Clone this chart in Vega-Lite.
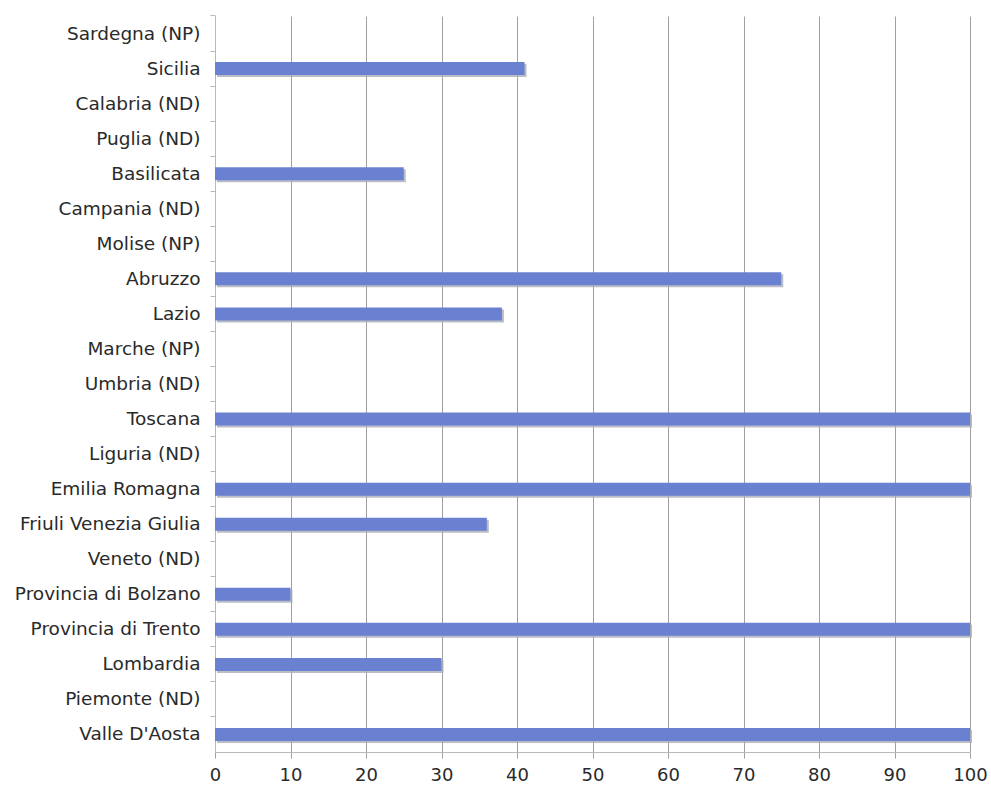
{
  "$schema": "https://vega.github.io/schema/vega-lite/v6.json",
  "width": 755,
  "height": 736,
  "autosize": "none",
  "padding": {"left": 215, "top": 16, "right": 21, "bottom": 37},
  "background": "white",
  "config": {
    "view": {"stroke": null},
    "font": "DejaVu Sans"
  },
  "data": {
    "values": [
      {"regione": "Sardegna (NP)", "valore": null},
      {"regione": "Sicilia", "valore": 41},
      {"regione": "Calabria (ND)", "valore": null},
      {"regione": "Puglia (ND)", "valore": null},
      {"regione": "Basilicata", "valore": 25},
      {"regione": "Campania (ND)", "valore": null},
      {"regione": "Molise (NP)", "valore": null},
      {"regione": "Abruzzo", "valore": 75},
      {"regione": "Lazio", "valore": 38},
      {"regione": "Marche (NP)", "valore": null},
      {"regione": "Umbria (ND)", "valore": null},
      {"regione": "Toscana", "valore": 100},
      {"regione": "Liguria (ND)", "valore": null},
      {"regione": "Emilia Romagna", "valore": 100},
      {"regione": "Friuli Venezia Giulia", "valore": 36},
      {"regione": "Veneto (ND)", "valore": null},
      {"regione": "Provincia di Bolzano", "valore": 10},
      {"regione": "Provincia di Trento", "valore": 100},
      {"regione": "Lombardia", "valore": 30},
      {"regione": "Piemonte (ND)", "valore": null},
      {"regione": "Valle D'Aosta", "valore": 100}
    ]
  },
  "encoding": {
    "y": {
      "field": "regione",
      "type": "nominal",
      "sort": null,
      "scale": {
        "domain": [
          "Sardegna (NP)", "Sicilia", "Calabria (ND)", "Puglia (ND)", "Basilicata",
          "Campania (ND)", "Molise (NP)", "Abruzzo", "Lazio", "Marche (NP)",
          "Umbria (ND)", "Toscana", "Liguria (ND)", "Emilia Romagna",
          "Friuli Venezia Giulia", "Veneto (ND)", "Provincia di Bolzano",
          "Provincia di Trento", "Lombardia", "Piemonte (ND)", "Valle D'Aosta"
        ],
        "paddingInner": 0,
        "paddingOuter": 0
      },
      "axis": {
        "title": null,
        "bandPosition": 0,
        "domainColor": "#b8b8b8",
        "tickColor": "#b8b8b8",
        "tickSize": 5,
        "labelPadding": 10,
        "labelLimit": 0,
        "labelFontSize": 18.5,
        "labelColor": "#2a2a2a",
        "labelFont": "DejaVu Sans"
      }
    },
    "x": {
      "field": "valore",
      "type": "quantitative",
      "scale": {"domain": [0, 100], "nice": false},
      "axis": {
        "title": null,
        "values": [0, 10, 20, 30, 40, 50, 60, 70, 80, 90, 100],
        "grid": true,
        "gridColor": "#a0a0a0",
        "gridWidth": 1,
        "domainColor": "#b8b8b8",
        "tickColor": "#a0a0a0",
        "tickSize": 6,
        "labelPadding": 8,
        "labelFlush": false,
        "labelFontSize": 18,
        "labelColor": "#2a2a2a",
        "labelFont": "DejaVu Sans"
      }
    }
  },
  "layer": [
    {
      "mark": {"type": "bar", "size": 13, "color": "#a9acb8", "xOffset": 2, "yOffset": 2, "opacity": 0.8}
    },
    {
      "mark": {"type": "bar", "size": 13, "color": "#6a80d0"}
    }
  ]
}
